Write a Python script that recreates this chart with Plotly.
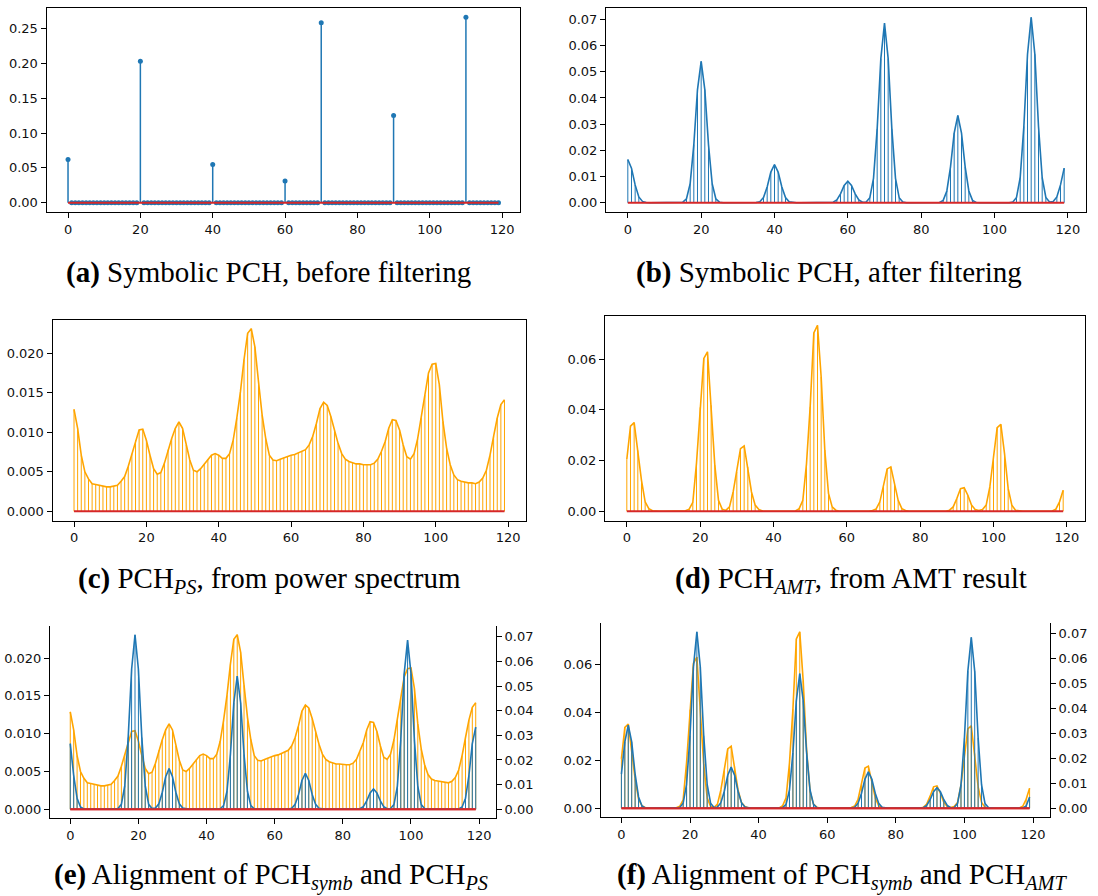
import plotly.graph_objects as go
import numpy as np

# ---------------- data ----------------
bins = list(range(120))

# (a) symbolic PCH before filtering: non-zero bins and their values
symb_pos = [0, 20, 40, 60, 70, 90, 110]
symb_val = [0.062, 0.203, 0.055, 0.031, 0.258, 0.125, 0.266]

# (b) symbolic PCH after filtering
symb_filt = [
    0.0165, 0.0132, 0.0068, 0.0022, 0.0005, 0.0001, 0, 0, 0, 0,
    0, 0, 0, 0, 0, 0.0002, 0.0015, 0.0073, 0.0222, 0.0432,
    0.0540, 0.0432, 0.0222, 0.0073, 0.0015, 0.0002, 0, 0, 0, 0,
    0, 0, 0, 0, 0, 0.0001, 0.0004, 0.0020, 0.0060, 0.0117,
    0.0146, 0.0117, 0.0060, 0.0020, 0.0004, 0.0001, 0, 0, 0, 0,
    0, 0, 0, 0, 0, 0, 0.0002, 0.0011, 0.0034, 0.0066,
    0.0082, 0.0066, 0.0034, 0.0011, 0.0002, 0.0003, 0.0019, 0.0093, 0.0282, 0.0550,
    0.0686, 0.0550, 0.0282, 0.0093, 0.0019, 0.0003, 0, 0, 0, 0,
    0, 0, 0, 0, 0, 0.0001, 0.0009, 0.0045, 0.0137, 0.0266,
    0.0333, 0.0266, 0.0137, 0.0045, 0.0009, 0.0001, 0, 0, 0, 0,
    0, 0, 0, 0, 0, 0.0003, 0.0020, 0.0096, 0.0291, 0.0567,
    0.0708, 0.0567, 0.0291, 0.0096, 0.0020, 0.0003, 0.0005, 0.0022, 0.0068, 0.0132,
]

# (c) PCH from power spectrum
pch_ps = [
    0.0129, 0.0105, 0.0071, 0.0050, 0.0041, 0.0035, 0.0034, 0.0033, 0.0032, 0.0031,
    0.0031, 0.0032, 0.0033, 0.0038, 0.0044, 0.0057, 0.0073, 0.0090, 0.0103, 0.0104,
    0.0090, 0.0071, 0.0054, 0.0047, 0.0049, 0.0061, 0.0078, 0.0092, 0.0105, 0.0113,
    0.0105, 0.0084, 0.0065, 0.0052, 0.0050, 0.0054, 0.0060, 0.0066, 0.0071, 0.0073,
    0.0071, 0.0067, 0.0067, 0.0073, 0.0090, 0.0118, 0.0151, 0.0192, 0.0225, 0.0231,
    0.0208, 0.0164, 0.0122, 0.0092, 0.0071, 0.0065, 0.0064, 0.0066, 0.0068, 0.0069,
    0.0071, 0.0072, 0.0074, 0.0076, 0.0078, 0.0084, 0.0095, 0.0111, 0.0130, 0.0138,
    0.0134, 0.0120, 0.0103, 0.0086, 0.0073, 0.0066, 0.0063, 0.0061, 0.0060, 0.0060,
    0.0059, 0.0059, 0.0059, 0.0061, 0.0066, 0.0076, 0.0088, 0.0105, 0.0116, 0.0115,
    0.0103, 0.0084, 0.0069, 0.0066, 0.0073, 0.0092, 0.0118, 0.0147, 0.0175, 0.0186,
    0.0187, 0.0160, 0.0113, 0.0080, 0.0059, 0.0046, 0.0040, 0.0038, 0.0037, 0.0036,
    0.0036, 0.0035, 0.0037, 0.0042, 0.0052, 0.0071, 0.0095, 0.0118, 0.0135, 0.0141,
]

# (d) PCH from AMT result
pch_amt = [
    0.0205, 0.0336, 0.0350, 0.0240, 0.0122, 0.0037, 0.0010, 0.0002, 0, 0,
    0, 0, 0, 0, 0, 0, 0.0002, 0.0008, 0.0035, 0.0190,
    0.0410, 0.0603, 0.0629, 0.0418, 0.0182, 0.0043, 0.0008, 0.0003, 0.0017, 0.0076,
    0.0155, 0.0247, 0.0258, 0.0175, 0.0076, 0.0024, 0.0007, 0.0001, 0, 0,
    0, 0, 0, 0, 0, 0, 0.0001, 0.0010, 0.0043, 0.0188,
    0.0412, 0.0704, 0.0734, 0.0530, 0.0240, 0.0070, 0.0017, 0.0004, 0, 0,
    0, 0, 0, 0, 0, 0, 0, 0.0003, 0.0009, 0.0037,
    0.0103, 0.0167, 0.0175, 0.0109, 0.0043, 0.0010, 0.0003, 0, 0, 0,
    0, 0, 0, 0, 0, 0, 0, 0, 0.0004, 0.0017,
    0.0050, 0.0089, 0.0093, 0.0063, 0.0024, 0.0007, 0.0003, 0.0007, 0.0024, 0.0096,
    0.0214, 0.0330, 0.0343, 0.0228, 0.0089, 0.0024, 0.0004, 0.0001, 0, 0,
    0, 0, 0, 0, 0, 0, 0.0001, 0.0008, 0.0037, 0.0083,
]

# circular alignment shifts (bins) used in (e) and (f)
shift_ps = 29
shift_amt = 32

x_ticks = [0, 20, 40, 60, 80, 100, 120]

# ---------------- styles ----------------
BLUE = "#1f77b4"
ORANGE = "#ffa500"
RED = "#d62728"
W, H = 1098, 896
TICKFONT = dict(family="DejaVu Sans", size=13, color="#111")
CAPFONT = dict(family="Liberation Serif", size=29, color="#000")

symb_raw = np.zeros(len(bins))
symb_raw[symb_pos] = symb_val
align_ps = np.roll(np.array(symb_filt), shift_ps)
align_amt = np.roll(np.array(symb_filt), shift_amt)


def stem_xy(xs, ys):
    sx, sy = [], []
    for xi, yi in zip(xs, ys):
        sx += [xi, xi, None]
        sy += [0, yi, None]
    return sx, sy


fig = go.Figure()


def add_stem(xa, ya, ys, color, stem_w=1.0, top_w=1.6, markers=False):
    sx, sy = stem_xy(bins, ys)
    fig.add_trace(go.Scatter(x=sx, y=sy, mode="lines", xaxis=xa, yaxis=ya,
                             line=dict(color=color, width=stem_w),
                             showlegend=False, hoverinfo="skip"))
    if markers:
        fig.add_trace(go.Scatter(x=bins, y=list(ys), mode="markers", xaxis=xa, yaxis=ya,
                                 marker=dict(color=color, size=5),
                                 showlegend=False))
    else:
        fig.add_trace(go.Scatter(x=bins, y=list(ys), mode="lines", xaxis=xa, yaxis=ya,
                                 line=dict(color=color, width=top_w),
                                 showlegend=False))
    fig.add_trace(go.Scatter(x=[bins[0], bins[-1]], y=[0, 0], mode="lines",
                             xaxis=xa, yaxis=ya, line=dict(color=RED, width=2),
                             showlegend=False, hoverinfo="skip"))


def yr(vals):
    lo, hi = min(0, min(vals)), max(0, max(vals))
    m = 0.05 * (hi - lo)
    return [lo - m, hi + m]


xspan = bins[-1] - bins[0]
XR = [bins[0] - 0.05 * xspan, bins[-1] + 0.05 * xspan]

# panel boxes in pixels: left, right, top, bottom
boxes = {
    1: (46.5, 520, 8, 212),
    2: (606, 1086, 8, 212),
    3: (52.5, 526, 319.5, 520.5),
    4: (605, 1085, 316, 520.5),
    5: (50, 496, 626, 818),
    6: (601, 1050, 623, 817),
}

add_stem("x", "y", symb_raw, BLUE, stem_w=1.5, markers=True)
add_stem("x2", "y2", symb_filt, BLUE)
add_stem("x3", "y3", pch_ps, ORANGE)
add_stem("x4", "y4", pch_amt, ORANGE)
add_stem("x5", "y5", pch_ps, ORANGE)
add_stem("x5", "y7", align_ps, BLUE)
add_stem("x6", "y6", pch_amt, ORANGE)
add_stem("x6", "y8", align_amt, BLUE)

axis_common = dict(showline=True, linecolor="#000", linewidth=1, mirror=True,
                   ticks="outside", ticklen=5, tickwidth=1, tickcolor="#000",
                   showgrid=False, zeroline=False, tickfont=TICKFONT)

y_specs = {
    1: (symb_raw, [0, 0.05, 0.10, 0.15, 0.20, 0.25], ".2f"),
    2: (symb_filt, [0, 0.01, 0.02, 0.03, 0.04, 0.05, 0.06, 0.07], ".2f"),
    3: (pch_ps, [0, 0.005, 0.010, 0.015, 0.020], ".3f"),
    4: (pch_amt, [0, 0.02, 0.04, 0.06], ".2f"),
    5: (pch_ps, [0, 0.005, 0.010, 0.015, 0.020], ".3f"),
    6: (pch_amt, [0, 0.02, 0.04, 0.06], ".2f"),
}

layout = {}
for k, (l, r, t, b) in boxes.items():
    sfx = "" if k == 1 else str(k)
    layout["xaxis" + sfx] = dict(axis_common, domain=[l / W, r / W], range=XR,
                                 tickvals=x_ticks, anchor="y" + sfx)
    vals, tv, fmt = y_specs[k]
    layout["yaxis" + sfx] = dict(axis_common, domain=[1 - b / H, 1 - t / H],
                                 range=yr(list(vals)), tickvals=tv, tickformat=fmt,
                                 anchor="x" + sfx)
    if k in (5, 6):
        layout["xaxis" + sfx]["mirror"] = False
        layout["yaxis" + sfx]["mirror"] = False

# secondary axes for alignment panels
for main, sec, vals in ((5, 7, align_ps), (6, 8, align_amt)):
    layout["yaxis" + str(sec)] = dict(axis_common, overlaying="y" + str(main),
                                      side="right", anchor="x" + str(main),
                                      range=yr(list(vals)),
                                      tickvals=[0, 0.01, 0.02, 0.03, 0.04, 0.05, 0.06, 0.07],
                                      tickformat=".2f", mirror=False)
    # top border line
    l, r, t, b = boxes[main]
    layout["xaxis" + str(sec)] = dict(overlaying="x" + str(main), domain=[l / W, r / W],
                                      range=XR, side="top", showline=True,
                                      linecolor="#000", linewidth=1, showticklabels=False,
                                      ticks="", showgrid=False, zeroline=False,
                                      anchor="y" + str(sec))

captions = [
    (268, 272, "<b>(a)</b> Symbolic PCH, before filtering"),
    (829, 272, "<b>(b)</b> Symbolic PCH, after filtering"),
    (269, 580, "<b>(c)</b> PCH<sub><i>PS</i></sub>, from power spectrum"),
    (851, 580, "<b>(d)</b> PCH<sub><i>AMT</i></sub>, from AMT result"),
    (271, 876, "<b>(e)</b> Alignment of PCH<sub><i>symb</i></sub> and PCH<sub><i>PS</i></sub>"),
    (842, 876, "<b>(f)</b> Alignment of PCH<sub><i>symb</i></sub> and PCH<sub><i>AMT</i></sub>"),
]
annotations = [dict(x=cx / W, y=1 - cy / H, xref="paper", yref="paper", text=txt,
                    showarrow=False, font=CAPFONT, xanchor="center", yanchor="middle")
               for cx, cy, txt in captions]

fig.update_layout(width=W, height=H, margin=dict(l=0, r=0, t=0, b=0),
                  paper_bgcolor="white", plot_bgcolor="white",
                  showlegend=False, annotations=annotations, **layout)

fig.write_html("out.html")
